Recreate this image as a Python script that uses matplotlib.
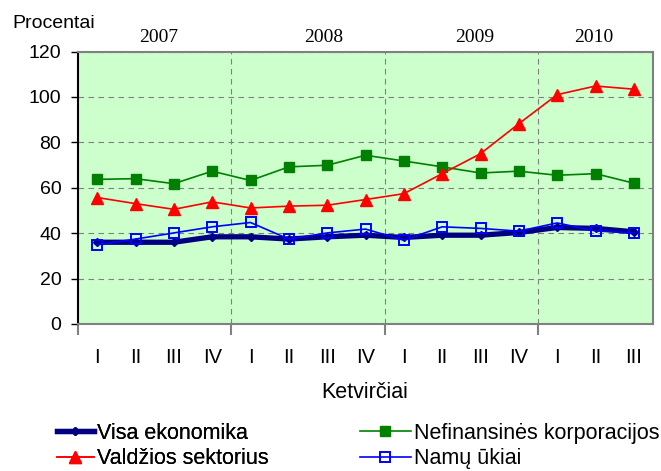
import matplotlib
matplotlib.use("Agg")
import matplotlib.pyplot as plt
import matplotlib.transforms as mtransforms
import numpy as np

# -------------------- Data ----------------------- #
quarters = ["I", "II", "III", "IV", "I", "II", "III", "IV",
            "I", "II", "III", "IV", "I", "II", "III"]
years = ["2007", "2008", "2009", "2010"]
year_pos = [1.6, 5.9, 9.85, 12.95]

visa = [36.0, 36.0, 36.0, 38.4, 38.4, 37.4, 38.4, 39.1,
        38.1, 39.1, 39.1, 40.3, 42.5, 42.1, 40.6]
nefin = [63.7, 64.0, 61.8, 67.3, 63.2, 69.2, 69.9, 74.3,
         71.8, 69.2, 66.5, 67.3, 65.5, 66.2, 62.0]
valdz = [55.7, 53.0, 50.5, 53.8, 51.1, 51.9, 52.3, 54.8,
         57.4, 66.2, 75.0, 88.2, 101.0, 104.8, 103.4]
namu = [34.9, 37.4, 40.1, 42.8, 44.7, 37.4, 40.1, 41.8,
        36.9, 42.8, 42.1, 40.9, 44.5, 41.0, 40.1]

# -------------------- Plot ----------------------- #
plt.rcParams['font.family'] = ['Liberation Sans', 'DejaVu Sans']

fig = plt.figure(figsize=(6.61, 4.71), dpi=100)
ax = fig.add_axes([78 / 661, 1 - 324 / 471, 575 / 661, 272.5 / 471])
ax.set_facecolor('#CCFFCC')

x = np.arange(len(quarters))
l_visa, = ax.plot(x, visa, color='#000080', lw=3.8, marker='D', ms=4,
                  label='Visa ekonomika', zorder=3)
l_nefin, = ax.plot(x, nefin, color='#008000', lw=1.2, marker='s', ms=7.5,
                   label='Nefinansinės korporacijos', zorder=4)
l_valdz, = ax.plot(x, valdz, color='#FF0000', lw=1.2, marker='^', ms=8,
                   label='Valdžios sektorius', zorder=4)
l_namu, = ax.plot(x, namu, color='#0000FF', lw=1.2, marker='s', ms=7,
                  mfc='none', mew=1.4, label='Namų ūkiai', zorder=5)

ax.set_xlim(-0.5, 14.5)
ax.set_ylim(0, 120)
ax.set_yticks(np.arange(0, 121, 20))
ax.tick_params(axis='y', labelsize=14, length=5, width=1, pad=7, color='black')
ax.set_xticks(x)
ax.set_xticklabels(quarters)
ax.tick_params(axis='x', which='major', labelsize=14.5, length=0, pad=17)
ax.set_xticks([-0.5, 3.5, 7.5, 11.5], minor=True)
ax.tick_params(axis='x', which='minor', length=8, width=1.5, color='#808080')

ax.grid(axis='y', color='#808080', ls=(0, (5, 4)), lw=0.8)
for b in [3.5, 7.5, 11.5]:
    ax.axvline(b, color='#808080', ls=(0, (5, 4)), lw=0.8, zorder=1)

for s in ['top', 'right', 'bottom']:
    ax.spines[s].set_color('#808080')
    ax.spines[s].set_linewidth(1.5)
ax.spines['left'].set_color('black')
ax.spines['left'].set_linewidth(1.5)

trans = mtransforms.blended_transform_factory(ax.transData, ax.transAxes)
for yr, xp in zip(years, year_pos):
    ax.text(xp, 1.05, yr, transform=trans, ha='center', va='center',
            fontsize=14, family='Liberation Serif')

fig.text(12 / 661, 1 - 23 / 471, 'Procentai', ha='left', va='center', fontsize=14)
fig.text(365 / 661, 1 - 392 / 471, 'Ketvirčiai', ha='center', va='center', fontsize=15.5)

leg1 = fig.legend(handles=[l_visa, l_valdz], loc='center left',
                  bbox_to_anchor=(57 / 661, 1 - 446 / 471), frameon=False,
                  fontsize=15.5, handlelength=1.7, handletextpad=0.15,
                  borderpad=0, borderaxespad=0, labelspacing=0.2)
fig.add_artist(leg1)
fig.legend(handles=[l_nefin, l_namu], loc='center left',
           bbox_to_anchor=(360 / 661, 1 - 446 / 471), frameon=False,
           fontsize=15.5, handlelength=2.35, handletextpad=0.15,
           borderpad=0, borderaxespad=0, labelspacing=0.2)

fig.savefig('out.png', dpi=100)
